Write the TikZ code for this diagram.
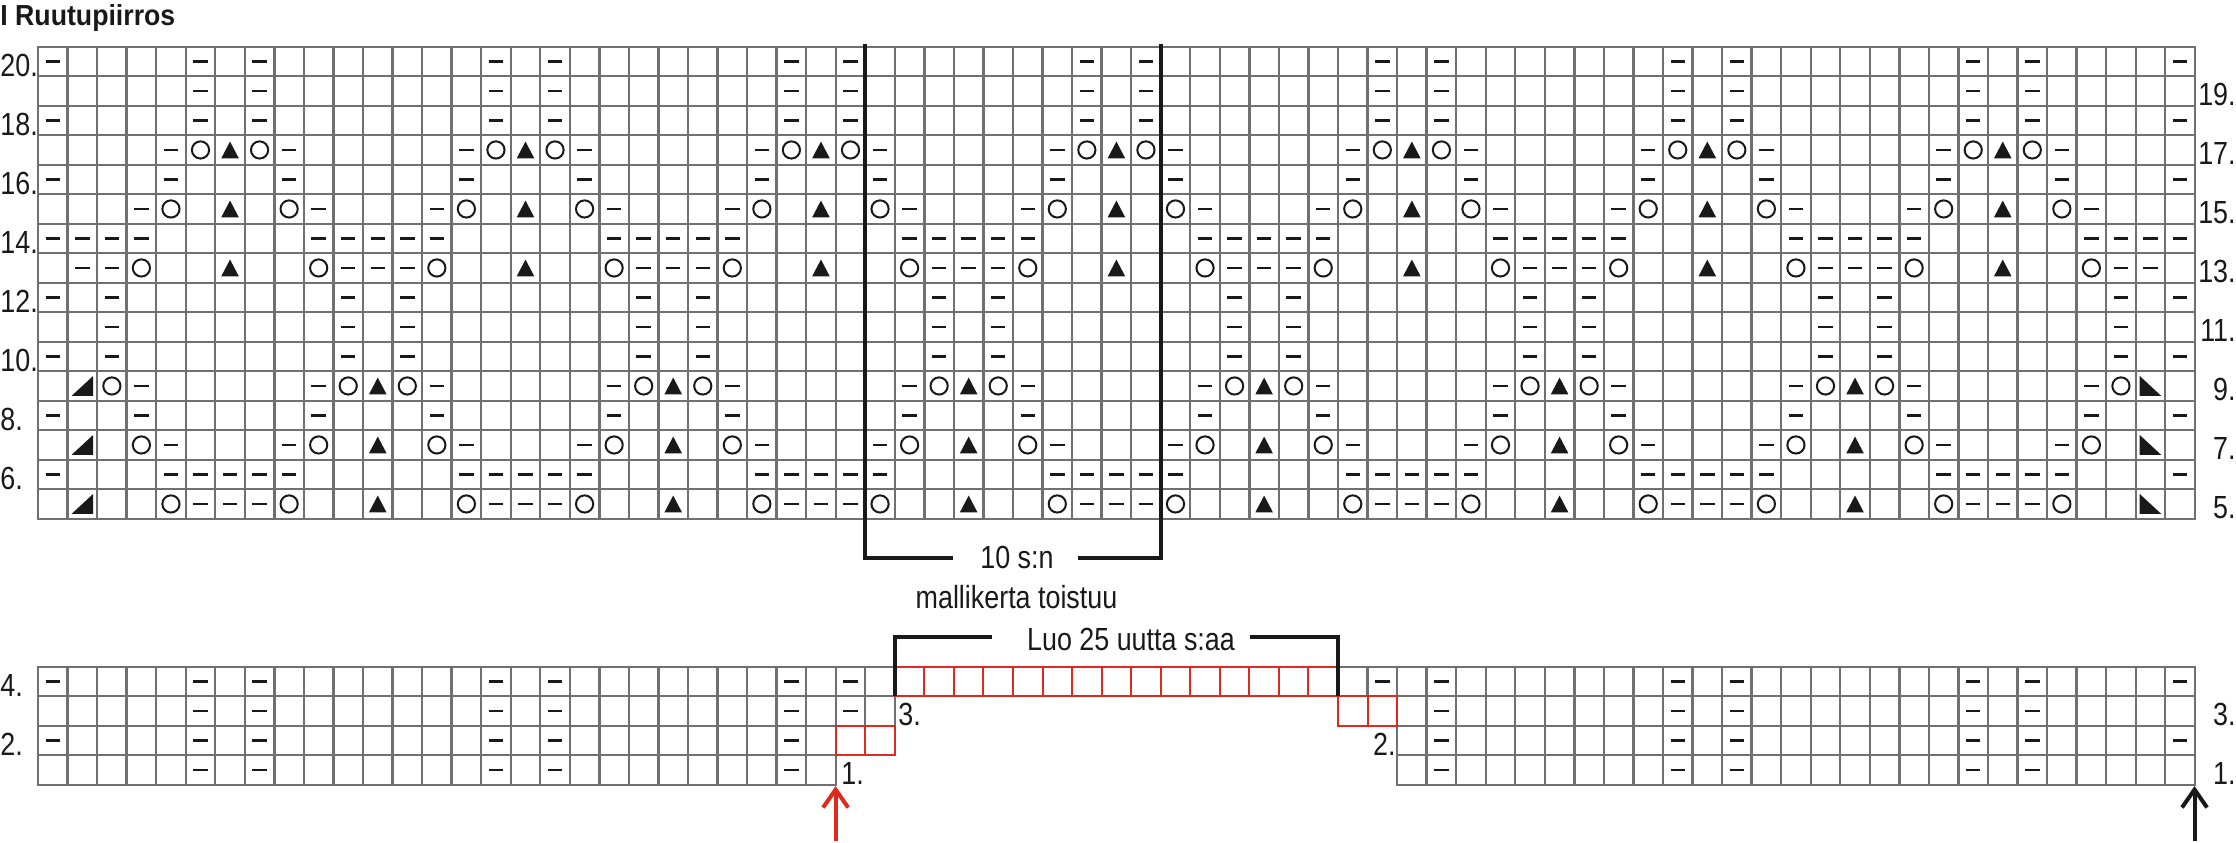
\documentclass[tikz,border=0pt]{standalone}
\usepackage{fontspec}
\setmainfont{Liberation Sans}[FakeStretch=0.84]
\newfontfamily\titlefont{Liberation Sans}[FakeStretch=0.92]
\usetikzlibrary{arrows.meta}
\definecolor{gridgrey}{RGB}{112,112,112}
\definecolor{chartred}{RGB}{222,42,28}
\definecolor{ink}{RGB}{25,25,25}
\tikzset{
  gridl/.style={draw=gridgrey, line width=1.2pt, line cap=rect},
  redcell/.style={draw=chartred, line width=1pt},
  greycell/.style={draw=gridgrey, line width=1.2pt},
  dsym/.style={draw=ink, line width=1.15pt},
  osym/.style={draw=ink, line width=1pt},
  tsym/.style={fill=ink},
  brk/.style={draw=ink, line width=2pt},
  lbl/.style={font=\fontsize{16}{16}\selectfont, inner sep=0pt, text=ink},
  arr/.style={line width=2pt, -{Straight Barb[length=9pt,width=12.5pt]}},
}
\def\cw{29.545}
\def\xo{38}
\def\yu{46.7}
\def\yl{666.7}
\def\rh{29.5}
\newcommand\gcell[3]{\draw[#3] ({\xo+#1*\cw},{\yl+(4-#2)*\rh}) rectangle ++(\cw,\rh);}
\newcommand\udash[2]{%
  \pgfmathsetmacro\cx{\xo+(#1+0.5)*\cw}%
  \pgfmathsetmacro\cy{\yu+(20.5-#2)*\rh}%
  \draw[dsym] ({\cx-7.2},\cy) -- ({\cx+7.2},\cy);}
\newcommand\ldash[2]{%
  \pgfmathsetmacro\cx{\xo+(#1+0.5)*\cw}%
  \pgfmathsetmacro\cy{\yl+(4.5-#2)*\rh}%
  \draw[dsym] ({\cx-7.2},\cy) -- ({\cx+7.2},\cy);}
\begin{document}
\begin{tikzpicture}[x=0.5pt,y=-0.5pt]
\useasboundingbox (0,0) rectangle (2236,842);

% title
\node[anchor=base west, inner sep=0pt, text=ink, font=\titlefont\bfseries\fontsize{14.5}{15}\selectfont] (title) at (0,25) {I Ruutupiirros};

% upper grid
\foreach \i in {0,...,16}{\draw[gridl] (\xo,{\yu+\i*\rh}) -- ({\xo+73*\cw},{\yu+\i*\rh});}
\foreach \j in {0,...,73}{\draw[gridl] ({\xo+\j*\cw},\yu) -- ({\xo+\j*\cw},{\yu+16*\rh});}

% lower grid
\foreach \r/\a/\b in {1/26/46, 2/26/46, 3/28/46, 4/28/44}{
  \foreach \c in {0,...,\a}{\gcell{\c}{\r}{greycell}}
  \foreach \c in {\b,...,72}{\gcell{\c}{\r}{greycell}}
}
\foreach \c/\r in {27/2,28/2,44/3,45/3}{\gcell{\c}{\r}{redcell}}
\foreach \c in {29,...,43}{\gcell{\c}{4}{redcell}}

% upper dashes
\foreach \r/\ks in {20/{5,7},19/{5,7},18/{5,7},17/{4,8},16/{4,8},15/{3,9},14/{9,0,1,2,3},13/{0,1,2},12/{0,2},11/{0,2},10/{0,2},9/{9,3},8/{9,3},7/{8,4},6/{4,5,6,7,8},5/{5,6,7}}{
  \foreach \k in \ks {
    \foreach \m in {0,...,7}{
      \pgfmathtruncatemacro\c{10*\m+\k}
      \ifnum\c>0 \ifnum\c<72 \udash{\c}{\r}\fi\fi
    }
  }
}
% edge dashes (even rows)
\foreach \r in {20,18,...,6}{\udash{0}{\r}\udash{72}{\r}}

% circles
\foreach \r/\ks in {17/{5,7},15/{4,8},13/{9,3},9/{0,2},7/{9,3},5/{4,8}}{
  \foreach \k in \ks {
    \foreach \m in {0,...,7}{
      \pgfmathtruncatemacro\c{10*\m+\k}
      \ifnum\c>0 \ifnum\c<72
        \pgfmathsetmacro\cx{\xo+(\c+0.5)*\cw}
        \pgfmathsetmacro\cy{\yu+(20.5-\r)*\rh}
        \draw[osym] (\cx,\cy) circle[radius=4.3pt];
      \fi\fi
    }
  }
}

% triangles
\foreach \r/\k in {17/6,15/6,13/6,9/1,7/1,5/1}{
  \foreach \m in {0,...,7}{
    \pgfmathtruncatemacro\c{10*\m+\k}
    \ifnum\c<72
      \pgfmathsetmacro\cx{\xo+(\c+0.5)*\cw}
      \pgfmathsetmacro\cy{\yu+(20.5-\r)*\rh}
      \ifnum\c=1
        \fill[tsym,shift={(\cx,\cy)}] (-5.4pt,-5pt) -- (5.4pt,-5pt) -- (5.4pt,5pt) -- cycle;
      \else\ifnum\c=71
        \fill[tsym,shift={(\cx,\cy)}] (-5.4pt,5pt) -- (-5.4pt,-5pt) -- (5.4pt,-5pt) -- cycle;
      \else
        \fill[tsym,shift={(\cx,\cy)}] (-4.4pt,-4.2pt) -- (4.4pt,-4.2pt) -- (0pt,4.2pt) -- cycle;
      \fi\fi
    \fi
  }
}

% lower dashes
\foreach \r/\cs in {1/{5,7,15,17,25,47,55,57,65,67},2/{0,5,7,15,17,25,47,55,57,65,67,72},3/{5,7,15,17,25,27,47,55,57,65,67},4/{0,5,7,15,17,25,27,45,47,55,57,65,67,72}}{
  \foreach \c in \cs {\ldash{\c}{\r}}
}

% row labels
\foreach \r in {20,18,...,6}{\node[lbl,anchor=base west] (L\r) at (0,{\yu+(21-\r)*\rh}) {\r.};}
\foreach \r in {19,17,...,5}{\node[lbl,anchor=base east] (R\r) at (2236,{\yu+(21-\r)*\rh}) {\r.};}
\node[lbl,anchor=base west] (L4) at (0,{\yl+1*\rh}) {4.};
\node[lbl,anchor=base west] (L2) at (0,{\yl+3*\rh}) {2.};
\node[lbl,anchor=base east] (R3) at (2236,{\yl+2*\rh}) {3.};
\node[lbl,anchor=base east] (R1) at (2236,{\yl+4*\rh}) {1.};
\node[lbl,anchor=base west] (M3) at (898,{\yl+2*\rh}) {3.};
\node[lbl,anchor=base west] (M1) at (841,{\yl+4*\rh}) {1.};
\node[lbl,anchor=base east] (M2) at (1396,{\yl+3*\rh}) {2.};

% repeat bracket
\node[lbl,anchor=base] (rep) at (1017,568) {10 s:n};
\node[lbl,anchor=base] (rep2) at (1016.5,608) {mallikerta toistuu};
\coordinate (rA) at (865.2,44);
\coordinate (rB) at (865.2,557.7);
\coordinate (rC) at (952.7,557.7);
\coordinate (rD) at (1077.7,557.7);
\coordinate (rE) at (1160.6,557.7);
\coordinate (rF) at (1160.6,44);
\draw[brk] (rA) -- (rB) -- (rC);
\draw[brk] (rD) -- (rE) -- (rF);

% cast-on bracket
\node[lbl,anchor=base] (luo) at (1131,650) {Luo 25 uutta s:aa};
\coordinate (lA) at (894.8,696.2);
\coordinate (lB) at (894.8,637);
\coordinate (lC) at (992,637);
\coordinate (lD) at (1250,637);
\coordinate (lE) at (1337.5,637);
\coordinate (lF) at (1337.5,696.2);
\draw[brk] (lA) -- (lB) -- (lC);
\draw[brk] (lD) -- (lE) -- (lF);

% arrows
\coordinate (redtail) at (835.6,841);
\coordinate (redtip) at (835.6,786);
\coordinate (blktail) at (2194.5,841);
\coordinate (blktip) at (2194.5,786);
\draw[arr,chartred] (redtail) -- (redtip);
\draw[arr,ink] (blktail) -- (blktip);
\end{tikzpicture}
\end{document}
